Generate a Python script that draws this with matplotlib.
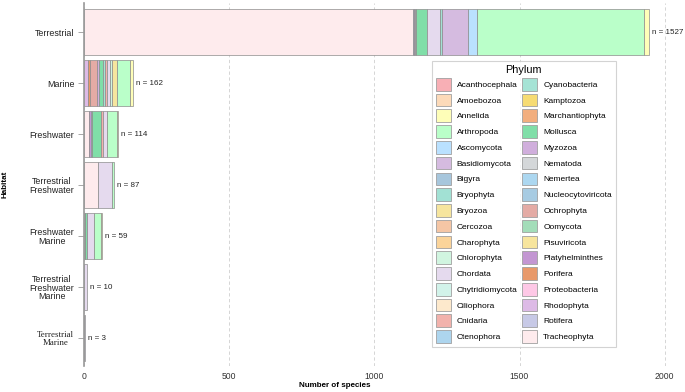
import matplotlib.pyplot as plt
from matplotlib.patches import Patch

# habitats, top to bottom
habitats = ['Terrestrial', 'Marine', 'Freshwater', 'Terrestrial\nFreshwater',
            'Freshwater\nMarine', 'Terrestrial\nFreshwater\nMarine', 'Terrestrial\nMarine']
n_species = [1527, 162, 114, 87, 59, 10, 3]

phyla = ['Acanthocephala', 'Amoebozoa', 'Annelida', 'Arthropoda', 'Ascomycota',
         'Basidiomycota', 'Bigyra', 'Bryophyta', 'Bryozoa', 'Cercozoa', 'Charophyta',
         'Chlorophyta', 'Chordata', 'Chytridiomycota', 'Ciliophora', 'Cnidaria',
         'Ctenophora', 'Cyanobacteria', 'Kamptozoa', 'Marchantiophyta', 'Mollusca',
         'Myzozoa', 'Nematoda', 'Nemertea', 'Nucleocytoviricota', 'Ochrophyta',
         'Oomycota', 'Pisuviricota', 'Platyhelminthes', 'Porifera', 'Proteobacteria',
         'Rhodophyta', 'Rotifera', 'Tracheophyta']
phylum_colors = ['#F8AFB5', '#FCDAB9', '#FEFEB8', '#BAFFC9', '#BAE1FF',
                 '#D5BBE0', '#A7C6DC', '#A2E1D4', '#F6E59E', '#F5C6A5', '#FBD49A',
                 '#D1F5E0', '#E5DAEE', '#D2F3EA', '#FDE9CC', '#F2B2AC',
                 '#ADD5EE', '#A5E3D5', '#F6DB73', '#F2AE7E', '#80DEA8',
                 '#D0AEDC', '#D4D7D9', '#ACD7F0', '#A7CBE2', '#E4ABA5',
                 '#A3DDB9', '#F7E59D', '#C396D2', '#E8996A', '#FEC8E6',
                 '#DDBAE6', '#C7C9E6', '#FEEBED']

# counts per habitat
terrestrial = {'Tracheophyta': 1132, 'Rotifera': 3, 'Platyhelminthes': 4, 'Nematoda': 4,
               'Mollusca': 38, 'Chordata': 44, 'Bryophyta': 8, 'Basidiomycota': 90,
               'Ascomycota': 29, 'Arthropoda': 577, 'Annelida': 17}
marine = {'Rhodophyta': 14, 'Porifera': 7, 'Ochrophyta': 23, 'Myzozoa': 9, 'Mollusca': 14,
          'Cyanobacteria': 7, 'Cnidaria': 5, 'Chordata': 9, 'Chlorophyta': 9,
          'Bryozoa': 16, 'Arthropoda': 44, 'Annelida': 11}
freshwater = {'Tracheophyta': 16, 'Platyhelminthes': 7, 'Nemertea': 3, 'Mollusca': 34,
              'Cnidaria': 5, 'Chordata': 14, 'Arthropoda': 34, 'Annelida': 5}
terr_fresh = {'Tracheophyta': 48, 'Chordata': 50, 'Arthropoda': 6}
fresh_marine = {'Tracheophyta': 3, 'Platyhelminthes': 2, 'Mollusca': 4, 'Cnidaria': 2,
                'Chordata': 24, 'Arthropoda': 22, 'Annelida': 5}
terr_fresh_marine = {'Chordata': 9}
terr_marine = {'Tracheophyta': 1, 'Chordata': 2}

counts = [terrestrial, marine, freshwater, terr_fresh, fresh_marine,
          terr_fresh_marine, terr_marine]

plt.rcParams['font.family'] = ['Liberation Sans', 'DejaVu Sans']
fig = plt.figure(figsize=(6.85, 3.92), dpi=100)
ax = fig.add_axes([84 / 685, 1 - 366 / 392, 1 - 84 / 685, 363 / 392])

edge = '#8c8c8c'
for i, hab in enumerate(counts):
    left = 0
    # ggplot stacks levels in reverse order
    for ph, col in zip(reversed(phyla), reversed(phylum_colors)):
        v = hab.get(ph, 0)
        if v <= 0:
            continue
        ax.barh(i, v, left=left, height=0.9, color=col, edgecolor=edge, linewidth=0.5)
        left += v
    ax.text(left + 10, i, f'n = {n_species[i]}', va='center', ha='left',
            fontsize=5.8, color='#222222')

ax.set_xlim(0, 2070)
ax.set_ylim(6.54, -0.57)
ax.set_xticks([0, 500, 1000, 1500, 2000])
ax.set_yticks(range(len(habitats)))
ax.set_yticklabels(habitats, fontsize=6.4, color='#222222', linespacing=0.95,
                   multialignment='center')
ax.get_yticklabels()[-1].set_family('Liberation Serif')
ax.tick_params(axis='x', length=0, labelsize=6.2, labelcolor='#333333', pad=4)
ax.tick_params(axis='y', length=4, color='#999999', width=0.6, pad=3)
ax.grid(axis='x', color='#cfcfcf', linestyle=(0, (4, 3)), linewidth=0.6)
ax.set_axisbelow(True)
for s in ['top', 'right', 'bottom']:
    ax.spines[s].set_visible(False)
ax.spines['left'].set_color('#999999')
ax.spines['left'].set_linewidth(1.2)

ax.set_xlabel('Number of species', fontsize=5.8, fontweight='bold')
ax.xaxis.set_label_coords((335 - 84) / 601, -0.045)
ax.set_ylabel('Habitat', fontsize=5.8, fontweight='bold')
ax.yaxis.set_label_coords(-0.125, 0.5)

handles = [Patch(facecolor=c, edgecolor='#a0a0a0', linewidth=0.6) for c in phylum_colors]
leg = ax.legend(handles, phyla, title='Phylum', ncol=2, loc='upper left',
                bbox_to_anchor=((432 - 84) / 601, 1 - 58 / 363),
                fontsize=6.0, title_fontsize=7.8, frameon=True, fancybox=False,
                edgecolor='#c8c8c8', handlelength=1.8, handleheight=1.95,
                labelspacing=0.38, columnspacing=0.6, handletextpad=0.7,
                borderpad=0.45, borderaxespad=0)
leg.get_frame().set_linewidth(0.8)

fig.savefig('out.png', dpi=100)
